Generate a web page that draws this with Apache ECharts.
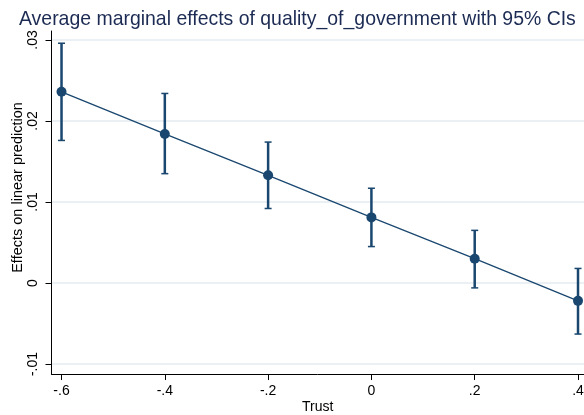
<!DOCTYPE html>
<html>
<head>
<meta charset="utf-8">
<script src="https://cdn.jsdelivr.net/npm/echarts@6/dist/echarts.min.js"></script>
<style>
  html, body { margin: 0; padding: 0; background: #fff; }
  #chart { width: 584px; height: 415px; }
</style>
</head>
<body>
<div id="chart"></div>
<script>
// margins of quality_of_government over Trust
const trust = [-0.6, -0.4, -0.2, 0, 0.2, 0.4];
const effect = [0.0236, 0.0184, 0.0133, 0.0081, 0.0030, -0.0022];
const ciLow = [0.0176, 0.0135, 0.0092, 0.0045, -0.0006, -0.0063];
const ciHigh = [0.0296, 0.0234, 0.0174, 0.0117, 0.0065, 0.0018];
const xTicks = [-0.6, -0.4, -0.2, 0, 0.2, 0.4];
const yTicks = [-0.01, 0, 0.01, 0.02, 0.03];

const navy = '#1a476f';
const font = 'Liberation Sans, Arial, Helvetica, sans-serif';

// Stata style numbers: .02, -.6, 0
function stataNum(v) {
  const s = String(+Number(v).toFixed(4));
  return s.replace(/^(-?)0\./, '$1.');
}

const chart = echarts.init(document.getElementById('chart'));

const option = {
  backgroundColor: '#fff',
  animation: false,
  title: {
    text: 'Average marginal effects of quality_of_government with 95% CIs',
    left: 14,
    top: 5,
    textStyle: { fontFamily: font, fontSize: 19.45, fontWeight: 'normal', color: '#1c2b53' }
  },
  grid: { left: 51.5, right: 0, top: 31, bottom: 41, outerBoundsMode: 'none' },
  xAxis: {
    type: 'value',
    min: -0.6194,
    max: 0.4116,
    name: 'Trust',
    nameLocation: 'middle',
    nameGap: 26,
    nameMoveOverlap: false,
    nameTextStyle: { fontFamily: font, fontSize: 14, color: '#000' },
    axisLine: { show: true, onZero: false, lineStyle: { color: '#000', width: 1 } },
    axisTick: { show: true, length: 6, customValues: xTicks, lineStyle: { color: '#000' } },
    axisLabel: {
      customValues: xTicks,
      margin: 10,
      fontFamily: font, fontSize: 14, color: '#000',
      formatter: stataNum
    },
    splitLine: { show: false }
  },
  yAxis: {
    type: 'value',
    min: -0.01123,
    max: 0.03111,
    name: 'Effects on linear prediction',
    nameLocation: 'middle',
    nameGap: 26,
    nameRotate: 90,
    nameMoveOverlap: false,
    nameTextStyle: { fontFamily: font, fontSize: 14.5, color: '#000', padding: [0, 0, 0, 30] },
    axisLine: { show: true, onZero: false, lineStyle: { color: '#000', width: 1 } },
    axisTick: { show: true, length: 6, customValues: yTicks, lineStyle: { color: '#000' } },
    axisLabel: {
      customValues: yTicks,
      rotate: 90,
      margin: 11,
      fontFamily: font, fontSize: 14, color: '#000',
      formatter: stataNum
    },
    splitLine: { show: true, lineStyle: { color: '#eaf0f4', width: 2 } }
  },
  series: [
    {
      // confidence intervals with caps
      type: 'custom',
      data: trust.map((t, i) => [t, ciLow[i], ciHigh[i]]),
      z: 2,
      renderItem: function (params, api) {
        const lo = api.coord([api.value(0), api.value(1)]);
        const hi = api.coord([api.value(0), api.value(2)]);
        const cap = 3.5;
        const capStyle = { stroke: navy, lineWidth: 1.5 };
        return {
          type: 'group',
          children: [
            { type: 'line', shape: { x1: lo[0], y1: lo[1], x2: hi[0], y2: hi[1] }, style: { stroke: navy, lineWidth: 2.5 } },
            { type: 'line', shape: { x1: lo[0] - cap, y1: lo[1], x2: lo[0] + cap, y2: lo[1] }, style: capStyle },
            { type: 'line', shape: { x1: hi[0] - cap, y1: hi[1], x2: hi[0] + cap, y2: hi[1] }, style: capStyle }
          ]
        };
      }
    },
    {
      type: 'line',
      data: trust.map((t, i) => [t, effect[i]]),
      z: 3,
      symbol: 'circle',
      symbolSize: 10,
      itemStyle: { color: navy },
      lineStyle: { color: navy, width: 1.3 }
    }
  ]
};

chart.setOption(option);
</script>
</body>
</html>
